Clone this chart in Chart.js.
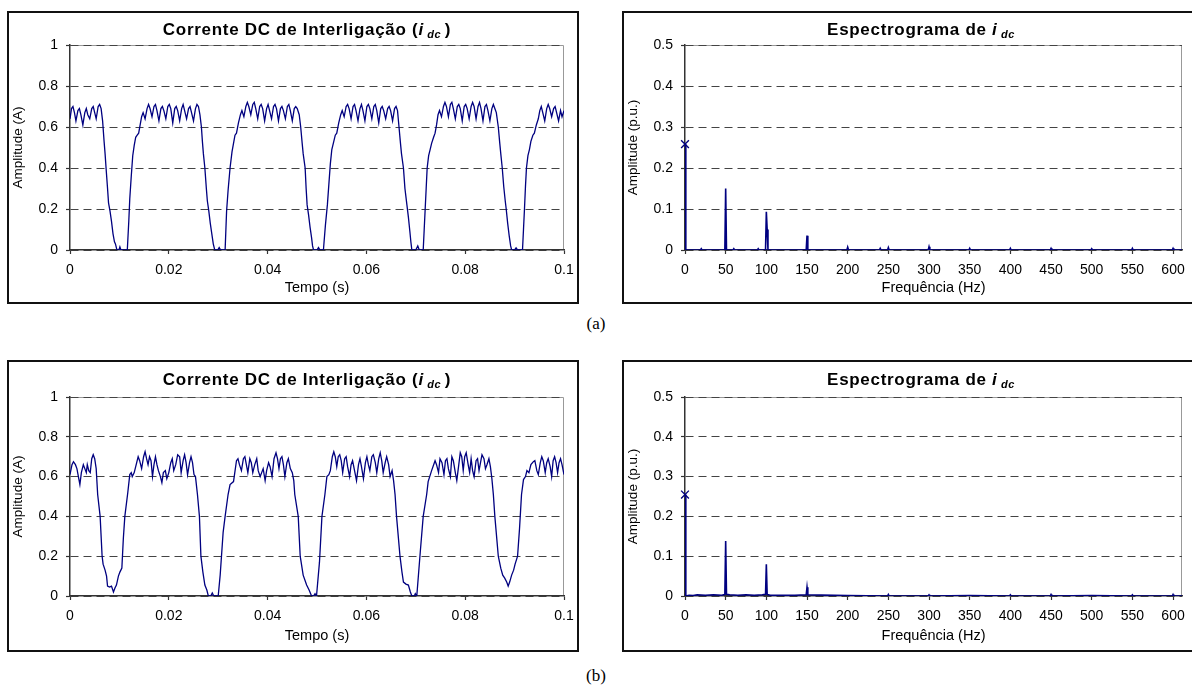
<!DOCTYPE html>
<html>
<head>
<meta charset="utf-8">
<script src="https://cdn.jsdelivr.net/npm/chart.js@4.4.1/dist/chart.umd.min.js"></script>
<style>
    body { margin: 0; background: #fff; width: 1192px; height: 695px; position: relative; overflow: hidden;
           font-family: "Liberation Sans", Arial, sans-serif; }
    canvas { position: absolute; }
    .frame { position: absolute; box-sizing: border-box; border: 2px solid #111; pointer-events: none; }
    .title { position: absolute; font-weight: bold; font-size: 17px; letter-spacing: 0.7px; white-space: nowrap;
             transform: translate(-50%, -50%); }
    .title sub { font-size: 11px; font-style: italic; vertical-align: -3px; letter-spacing: 0.5px; }
    .cap { position: absolute; font-family: "Liberation Serif", "Times New Roman", serif; font-size: 17px;
           transform: translate(-50%, -50%); }
</style>
</head>
<body>

<canvas id="wave-a" width="571" height="292" style="left:7px;top:11px"></canvas>
<canvas id="spec-a" width="570" height="292" style="left:622px;top:11px"></canvas>
<canvas id="wave-b" width="571" height="291" style="left:7px;top:360px"></canvas>
<canvas id="spec-b" width="570" height="291" style="left:622px;top:360px"></canvas>

<div class="frame" style="left:7px;top:11px;width:572px;height:293px"></div>
<div class="frame" style="left:622px;top:11px;width:574px;height:293px"></div>
<div class="frame" style="left:7px;top:360px;width:572px;height:292px"></div>
<div class="frame" style="left:622px;top:360px;width:574px;height:292px"></div>

<div class="title" style="left:307px;top:30px">Corrente DC de Interligação (<i>i</i><sub>&nbsp;dc&nbsp;</sub>)</div>
<div class="title" style="left:921px;top:30px">Espectrograma de <i>i</i><sub>&nbsp;dc</sub></div>
<div class="title" style="left:307px;top:380px">Corrente DC de Interligação (<i>i</i><sub>&nbsp;dc&nbsp;</sub>)</div>
<div class="title" style="left:921px;top:380px">Espectrograma de <i>i</i><sub>&nbsp;dc</sub></div>

<div class="cap" style="left:596px;top:324px">(a)</div>
<div class="cap" style="left:596px;top:676px">(b)</div>

<script>
    // ---- (a) corrente DC: tempo (s) / amplitude (A)
    // one line per segment: plateau, fall, notch, rise
    var timeA = [
        0.0000, 0.0003, 0.0006, 0.0009, 0.0012, 0.0016, 0.0019, 0.0022, 0.0026, 0.0030, 0.0033, 0.0036, 0.0040, 0.0044, 0.0047, 0.0050, 0.0053, 0.0057, 0.0060, 0.0063,
        0.0066, 0.0069, 0.0071, 0.0073, 0.0076, 0.0078, 0.0081, 0.0084, 0.0087, 0.0090, 0.0092, 0.0095, 0.0099, 0.0101, 0.0103, 0.0116,
        0.0119, 0.0121, 0.0124, 0.0127, 0.0130, 0.0133, 0.0136, 0.0139, 0.0142, 0.0145, 0.0148,
        0.0152, 0.0156, 0.0159, 0.0162, 0.0166, 0.0170, 0.0173, 0.0176, 0.0180, 0.0184, 0.0187, 0.0190, 0.0194, 0.0198, 0.0201, 0.0204,
        0.0208, 0.0212, 0.0215, 0.0218, 0.0222, 0.0226, 0.0229, 0.0232, 0.0236, 0.0240, 0.0243, 0.0246, 0.0250, 0.0254, 0.0257, 0.0260, 0.0263,
        0.0266, 0.0268, 0.0270, 0.0273, 0.0276, 0.0278, 0.0281, 0.0284, 0.0287, 0.0290, 0.0293, 0.0299, 0.0302, 0.0305, 0.0314,
        0.0317, 0.0320, 0.0324, 0.0328, 0.0331, 0.0334, 0.0337, 0.0341, 0.0345, 0.0348,
        0.0352, 0.0356, 0.0359, 0.0362, 0.0366, 0.0370, 0.0373, 0.0376, 0.0380, 0.0384, 0.0387, 0.0390, 0.0394, 0.0398, 0.0401, 0.0404,
        0.0408, 0.0412, 0.0415, 0.0418, 0.0422, 0.0426, 0.0429, 0.0432, 0.0436, 0.0440, 0.0443, 0.0446, 0.0450, 0.0454, 0.0457, 0.0460, 0.0464,
        0.0467, 0.0470, 0.0472, 0.0476, 0.0478, 0.0480, 0.0483, 0.0486, 0.0489, 0.0491, 0.0493, 0.0500, 0.0503, 0.0506, 0.0513,
        0.0517, 0.0521, 0.0524, 0.0527, 0.0530, 0.0534, 0.0537, 0.0540, 0.0544, 0.0548, 0.0551,
        0.0555, 0.0559, 0.0562, 0.0565, 0.0569, 0.0573, 0.0576, 0.0579, 0.0583, 0.0587, 0.0590, 0.0593, 0.0597, 0.0601, 0.0604, 0.0607,
        0.0611, 0.0615, 0.0618, 0.0621, 0.0625, 0.0629, 0.0632, 0.0635, 0.0639, 0.0643, 0.0646, 0.0649, 0.0653, 0.0657, 0.0660, 0.0663,
        0.0666, 0.0669, 0.0671, 0.0675, 0.0678, 0.0682, 0.0685, 0.0688, 0.0690, 0.0692, 0.0700, 0.0704, 0.0707, 0.0715,
        0.0717, 0.0719, 0.0721, 0.0723, 0.0726, 0.0729, 0.0732, 0.0736, 0.0739, 0.0742, 0.0745, 0.0748,
        0.0752, 0.0756, 0.0759, 0.0762, 0.0766, 0.0770, 0.0773, 0.0776, 0.0780, 0.0784, 0.0787, 0.0790, 0.0794, 0.0798, 0.0801, 0.0804,
        0.0808, 0.0812, 0.0815, 0.0818, 0.0822, 0.0826, 0.0829, 0.0832, 0.0836, 0.0840, 0.0843, 0.0846, 0.0850, 0.0854, 0.0857, 0.0860, 0.0863,
        0.0867, 0.0870, 0.0872, 0.0875, 0.0878, 0.0881, 0.0883, 0.0886, 0.0889, 0.0892, 0.0894, 0.0900, 0.0903, 0.0906, 0.0916,
        0.0918, 0.0920, 0.0922, 0.0924, 0.0927, 0.0930, 0.0933, 0.0937, 0.0940, 0.0944, 0.0948,
        0.0951, 0.0954, 0.0957, 0.0961, 0.0965, 0.0968, 0.0971, 0.0975, 0.0979, 0.0982, 0.0985, 0.0989, 0.0993, 0.0996, 0.1000
    ];
    var currentA = [
        0.64, 0.69, 0.70, 0.67, 0.63, 0.68, 0.69, 0.66, 0.61, 0.67, 0.69, 0.66, 0.64, 0.69, 0.70, 0.67, 0.64, 0.70, 0.71, 0.69,
        0.63, 0.53, 0.47, 0.40, 0.30, 0.23, 0.19, 0.14, 0.08, 0.04, 0.03, 0.00, 0.00, 0.015, 0.00, 0.00,
        0.14, 0.25, 0.36, 0.46, 0.51, 0.55, 0.56, 0.57, 0.61, 0.65, 0.67,
        0.64, 0.69, 0.71, 0.69, 0.65, 0.70, 0.71, 0.68, 0.63, 0.69, 0.70, 0.68, 0.64, 0.70, 0.71, 0.69,
        0.62, 0.69, 0.70, 0.68, 0.63, 0.69, 0.71, 0.68, 0.64, 0.69, 0.70, 0.67, 0.63, 0.69, 0.71, 0.70, 0.66,
        0.60, 0.53, 0.47, 0.40, 0.30, 0.24, 0.19, 0.13, 0.08, 0.03, 0.00, 0.00, 0.012, 0.00, 0.00,
        0.19, 0.29, 0.40, 0.48, 0.52, 0.56, 0.57, 0.62, 0.66, 0.68,
        0.65, 0.70, 0.72, 0.70, 0.66, 0.71, 0.72, 0.69, 0.64, 0.70, 0.71, 0.69, 0.63, 0.69, 0.71, 0.68,
        0.64, 0.70, 0.71, 0.69, 0.63, 0.69, 0.70, 0.68, 0.64, 0.70, 0.71, 0.68, 0.63, 0.69, 0.70, 0.69, 0.66,
        0.60, 0.52, 0.47, 0.40, 0.30, 0.22, 0.17, 0.11, 0.06, 0.02, 0.00, 0.00, 0.012, 0.00, 0.00,
        0.12, 0.22, 0.32, 0.42, 0.49, 0.53, 0.56, 0.57, 0.62, 0.66, 0.68,
        0.65, 0.70, 0.71, 0.69, 0.64, 0.70, 0.71, 0.68, 0.63, 0.69, 0.71, 0.68, 0.63, 0.70, 0.71, 0.69,
        0.64, 0.70, 0.71, 0.68, 0.62, 0.69, 0.70, 0.68, 0.64, 0.69, 0.70, 0.68, 0.63, 0.69, 0.70, 0.68,
        0.60, 0.52, 0.47, 0.40, 0.30, 0.22, 0.16, 0.09, 0.04, 0.00, 0.00, 0.02, 0.00, 0.00,
        0.10, 0.20, 0.30, 0.40, 0.46, 0.49, 0.52, 0.55, 0.57, 0.61, 0.66, 0.68,
        0.65, 0.70, 0.72, 0.70, 0.65, 0.71, 0.72, 0.69, 0.64, 0.70, 0.71, 0.69, 0.63, 0.70, 0.71, 0.69,
        0.64, 0.70, 0.72, 0.70, 0.64, 0.70, 0.72, 0.69, 0.63, 0.70, 0.71, 0.68, 0.63, 0.69, 0.71, 0.69, 0.67,
        0.60, 0.52, 0.47, 0.40, 0.31, 0.24, 0.20, 0.13, 0.07, 0.02, 0.00, 0.00, 0.01, 0.00, 0.00,
        0.10, 0.20, 0.31, 0.40, 0.46, 0.49, 0.53, 0.56, 0.57, 0.61, 0.64,
        0.68, 0.70, 0.67, 0.63, 0.69, 0.71, 0.69, 0.65, 0.69, 0.70, 0.67, 0.63, 0.68, 0.65, 0.68
    ];

    // ---- (b) corrente DC: tempo (s) / amplitude (A)
    var timeB = [
        0.0000, 0.0004, 0.0007, 0.0011, 0.0014, 0.0017, 0.0020, 0.0023, 0.0027, 0.0030, 0.0033, 0.0035, 0.0038, 0.0041, 0.0044, 0.0047, 0.0050, 0.0053,
        0.0056, 0.0061, 0.0065, 0.0067, 0.0071, 0.0074, 0.0076, 0.0080, 0.0084, 0.0088, 0.0091, 0.0094, 0.0098, 0.0101, 0.0105, 0.0108, 0.0111, 0.0117,
        0.0121, 0.0124, 0.0126, 0.0130, 0.0135, 0.0138, 0.0141, 0.0145, 0.0149, 0.0152, 0.0155, 0.0158, 0.0161, 0.0164, 0.0167, 0.0170,
        0.0173, 0.0176, 0.0179, 0.0183, 0.0186, 0.0189, 0.0193, 0.0196, 0.0200, 0.0204, 0.0207, 0.0210, 0.0214, 0.0218, 0.0222, 0.0225,
        0.0229, 0.0232, 0.0235, 0.0238, 0.0242, 0.0245, 0.0248, 0.0251, 0.0254,
        0.0258, 0.0262, 0.0265, 0.0269, 0.0273, 0.0277, 0.0280, 0.0285, 0.0288, 0.0291, 0.0300, 0.0304, 0.0310, 0.0314, 0.0320,
        0.0324, 0.0331, 0.0337, 0.0340, 0.0343, 0.0347, 0.0351, 0.0354, 0.0357, 0.0360, 0.0364, 0.0367, 0.0370, 0.0374, 0.0378,
        0.0381, 0.0385, 0.0388, 0.0391, 0.0395, 0.0398, 0.0402, 0.0405, 0.0409, 0.0413, 0.0417, 0.0420, 0.0423, 0.0426, 0.0429,
        0.0432, 0.0435, 0.0439, 0.0442, 0.0446, 0.0450, 0.0453,
        0.0455, 0.0462, 0.0466, 0.0472, 0.0479, 0.0484, 0.0489, 0.0493, 0.0496, 0.0499, 0.0505, 0.0510, 0.0516,
        0.0520, 0.0524, 0.0527, 0.0531, 0.0534, 0.0537, 0.0540, 0.0543, 0.0546, 0.0549, 0.0552, 0.0556, 0.0559, 0.0562, 0.0566,
        0.0569, 0.0572, 0.0576, 0.0580, 0.0584, 0.0587, 0.0590, 0.0594, 0.0598, 0.0601, 0.0604, 0.0607, 0.0611, 0.0614, 0.0618,
        0.0621, 0.0625, 0.0628, 0.0631, 0.0634, 0.0638, 0.0641, 0.0645, 0.0648, 0.0652, 0.0655,
        0.0658, 0.0661, 0.0668, 0.0672, 0.0675, 0.0680, 0.0685, 0.0689, 0.0692, 0.0697, 0.0699, 0.0702, 0.0709, 0.0715, 0.0722,
        0.0725, 0.0732, 0.0739, 0.0742, 0.0746, 0.0749, 0.0753, 0.0757, 0.0760, 0.0763, 0.0766, 0.0770, 0.0773, 0.0776, 0.0780,
        0.0783, 0.0787, 0.0790, 0.0793, 0.0796, 0.0799, 0.0802, 0.0806, 0.0809, 0.0812, 0.0815, 0.0818, 0.0822, 0.0825, 0.0828,
        0.0831, 0.0834, 0.0838, 0.0841, 0.0844, 0.0848, 0.0851, 0.0854,
        0.0857, 0.0860, 0.0867, 0.0872, 0.0876, 0.0880, 0.0884, 0.0887, 0.0890, 0.0894, 0.0898, 0.0901, 0.0906, 0.0910, 0.0914,
        0.0918, 0.0922, 0.0925, 0.0929, 0.0933, 0.0938, 0.0941, 0.0945, 0.0948, 0.0952, 0.0955, 0.0958, 0.0962, 0.0965, 0.0968,
        0.0972, 0.0975, 0.0978, 0.0981, 0.0984, 0.0987, 0.0990, 0.0993, 0.0996, 0.1000
    ];
    var currentB = [
        0.61, 0.66, 0.675, 0.66, 0.64, 0.60, 0.56, 0.62, 0.66, 0.64, 0.62, 0.66, 0.63, 0.62, 0.69, 0.71, 0.69, 0.64,
        0.51, 0.40, 0.20, 0.16, 0.13, 0.10, 0.05, 0.045, 0.05, 0.02, 0.04, 0.055, 0.10, 0.12, 0.14, 0.29, 0.40, 0.52,
        0.61, 0.62, 0.60, 0.62, 0.67, 0.70, 0.68, 0.64, 0.70, 0.725, 0.69, 0.66, 0.70, 0.68, 0.60, 0.66,
        0.70, 0.66, 0.63, 0.60, 0.57, 0.62, 0.63, 0.59, 0.62, 0.67, 0.69, 0.63, 0.66, 0.71, 0.70, 0.62,
        0.68, 0.71, 0.67, 0.61, 0.67, 0.70, 0.67, 0.61, 0.60,
        0.51, 0.40, 0.20, 0.12, 0.055, 0.03, 0.00, 0.00, 0.015, 0.00, 0.00, 0.105, 0.32, 0.40, 0.51,
        0.56, 0.575, 0.68, 0.69, 0.66, 0.63, 0.69, 0.70, 0.66, 0.62, 0.69, 0.67, 0.62, 0.66, 0.69,
        0.63, 0.60, 0.62, 0.64, 0.58, 0.63, 0.67, 0.65, 0.60, 0.69, 0.72, 0.69, 0.64, 0.69, 0.70,
        0.66, 0.60, 0.67, 0.69, 0.64, 0.62, 0.58,
        0.51, 0.40, 0.20, 0.105, 0.055, 0.03, 0.00, 0.00, 0.012, 0.00, 0.17, 0.40, 0.51,
        0.60, 0.61, 0.63, 0.70, 0.725, 0.70, 0.65, 0.70, 0.71, 0.68, 0.62, 0.69, 0.70, 0.65, 0.60,
        0.66, 0.68, 0.63, 0.58, 0.66, 0.69, 0.65, 0.59, 0.67, 0.70, 0.66, 0.63, 0.70, 0.71, 0.67,
        0.62, 0.69, 0.72, 0.68, 0.62, 0.67, 0.70, 0.66, 0.60, 0.63, 0.58,
        0.51, 0.40, 0.20, 0.12, 0.07, 0.06, 0.055, 0.02, 0.00, 0.00, 0.012, 0.00, 0.22, 0.40, 0.51,
        0.575, 0.63, 0.68, 0.66, 0.62, 0.69, 0.67, 0.61, 0.68, 0.69, 0.64, 0.60, 0.70, 0.68, 0.62,
        0.58, 0.66, 0.72, 0.70, 0.63, 0.70, 0.72, 0.66, 0.62, 0.69, 0.63, 0.60, 0.68, 0.69, 0.63,
        0.67, 0.71, 0.69, 0.64, 0.66, 0.69, 0.65, 0.59,
        0.51, 0.40, 0.20, 0.14, 0.105, 0.09, 0.07, 0.05, 0.07, 0.105, 0.13, 0.16, 0.20, 0.34, 0.51,
        0.585, 0.60, 0.63, 0.62, 0.66, 0.675, 0.68, 0.63, 0.61, 0.67, 0.70, 0.68, 0.62, 0.67, 0.69,
        0.65, 0.60, 0.68, 0.70, 0.67, 0.62, 0.67, 0.69, 0.66, 0.61
    ];

    // ---- espectrograma: frequência (Hz) / amplitude (p.u.)
    var freqA = [0, 1, 19, 20, 21, 49, 50, 51, 59, 60, 61, 89, 90, 91, 99, 100, 101, 102, 149, 150, 151,
                 199, 200, 201, 239, 240, 241, 249, 250, 251, 299, 300, 301, 349, 350, 351, 399, 400, 401,
                 449, 450, 451, 499, 500, 501, 549, 550, 551, 599, 600, 601, 611];
    var ampA = [0.258, 0, 0, 0.003, 0, 0, 0.15, 0, 0, 0.003, 0, 0, 0.003, 0, 0, 0.093, 0.05, 0, 0, 0.035, 0,
                0, 0.007, 0, 0, 0.004, 0, 0, 0.006, 0, 0, 0.008, 0, 0, 0.004, 0, 0, 0.004, 0,
                0, 0.004, 0, 0, 0.003, 0, 0, 0.004, 0, 0, 0.004, 0, 0];
    var freqB = [0, 1, 5, 10, 15, 25, 35, 45, 49, 50, 51, 55, 65, 75, 85, 95, 99, 100, 101, 105, 120, 135, 149, 150, 151,
                 200, 249, 250, 251, 299, 300, 301, 350, 399, 400, 401, 449, 450, 451, 500, 549, 550, 551, 599, 600, 601, 611];
    var ampB = [0.255, 0, 0.002, 0.001, 0.003, 0.002, 0.003, 0.002, 0.004, 0.138, 0.004, 0.003, 0.002, 0.003, 0.002, 0.003,
                0.004, 0.08, 0.004, 0.002, 0.002, 0.002, 0.003, 0.022, 0.003,
                0.001, 0, 0.004, 0, 0, 0.003, 0, 0.001, 0, 0.003, 0, 0, 0.004, 0, 0.001, 0, 0.003, 0, 0, 0.004, 0, 0];

    var timeTicks = [0, 0.02, 0.04, 0.06, 0.08, 0.1];
    var freqTicks = [0, 50, 100, 150, 200, 250, 300, 350, 400, 450, 500, 550, 600];
    var currentTicks = [0, 0.2, 0.4, 0.6, 0.8, 1];
    var puTicks = [0, 0.1, 0.2, 0.3, 0.4, 0.5];

    Chart.defaults.font.family = '"Liberation Sans", Arial, sans-serif';
    Chart.defaults.color = '#000';

    var NAVY = '#000080';
    var AXIS = '#333';
    var GRID = '#444';

    // Light grey frame on the top and right of the plot area (drawn under the grid)
    var plotFrame = {
        id: 'plotFrame',
        beforeDraw: function (chart) {
            var a = chart.chartArea;
            var ctx = chart.ctx;
            ctx.save();
            ctx.strokeStyle = '#999';
            ctx.lineWidth = 1;
            ctx.beginPath();
            ctx.moveTo(a.left, Math.round(a.top) + 0.5);
            ctx.lineTo(Math.round(a.right) - 0.5, Math.round(a.top) + 0.5);
            ctx.lineTo(Math.round(a.right) - 0.5, a.bottom);
            ctx.stroke();
            ctx.restore();
        }
    };

    function toPoints(xs, ys) {
        return xs.map(function (x, i) { return {x: x, y: ys[i]}; });
    }

    /**
     * Builds one panel. o.left/right/top/bottom give the plot area inside the canvas.
     */
    function makeChart(id, datasets, o) {
        var canvas = document.getElementById(id);
        var W = canvas.width, H = canvas.height;
        return new Chart(canvas, {
            type: 'line',
            data: {datasets: datasets},
            options: {
                responsive: false,
                animation: false,
                events: [],
                layout: {padding: {left: 0, top: o.top, right: W - o.right, bottom: 0}},
                plugins: {legend: {display: false}, tooltip: {enabled: false}},
                scales: {
                    x: {
                        type: 'linear',
                        min: o.xMin, max: o.xMax,
                        afterFit: function (s) { s.height = H - o.bottom; s.paddingLeft = 0; s.paddingRight = 0; },
                        afterBuildTicks: function (s) {
                            s.ticks = o.xTicks.map(function (v) { return {value: v}; });
                        },
                        ticks: {
                            font: {size: 14}, padding: 8, maxRotation: 0, autoSkip: false,
                            callback: function (v) { return String(+v.toFixed(4)); }
                        },
                        grid: {drawOnChartArea: false, drawTicks: true, tickLength: 4, tickColor: AXIS, tickWidth: 1.2},
                        border: {display: true, color: AXIS, width: 1.5},
                        title: {display: true, text: o.xTitle, font: {size: 14.5}, padding: {top: 0, bottom: 6}}
                    },
                    y: {
                        type: 'linear',
                        min: 0, max: o.yMax,
                        afterFit: function (s) { s.width = o.left; s.paddingTop = 0; s.paddingBottom = 0; },
                        afterBuildTicks: function (s) {
                            s.ticks = o.yTicks.map(function (v) { return {value: v}; });
                        },
                        ticks: {
                            font: {size: 14}, padding: 8,
                            callback: function (v) { return String(+v.toFixed(2)); }
                        },
                        grid: {color: GRID, lineWidth: 1, drawTicks: true, tickLength: 4, tickColor: AXIS, tickWidth: 1.2},
                        border: {display: true, color: AXIS, width: 1.5, dash: [8, 5]},
                        title: {display: true, text: o.yTitle, font: {size: 13.5}, padding: {top: 3, bottom: 0}}
                    }
                }
            },
            plugins: [plotFrame]
        });
    }

    function waveDataset(xs, ys) {
        return {
            data: toPoints(xs, ys), borderColor: NAVY, borderWidth: 1.3,
            pointRadius: 0, tension: 0, fill: false
        };
    }

    function specDatasets(xs, ys) {
        return [{
            data: toPoints(xs, ys), borderColor: NAVY, borderWidth: 1.6,
            pointRadius: 0, tension: 0, fill: false
        }, {
            // DC component marker
            data: [{x: xs[0], y: ys[0]}], showLine: false, clip: false,
            borderColor: NAVY, backgroundColor: NAVY,
            pointStyle: 'crossRot', pointRadius: 5.5, pointBorderWidth: 1.4
        }];
    }

    makeChart('wave-a', [waveDataset(timeA, currentA)], {
        left: 63, right: 557, top: 34, bottom: 239,
        xMin: 0, xMax: 0.1, xTicks: timeTicks, yMax: 1, yTicks: currentTicks,
        xTitle: 'Tempo (s)', yTitle: 'Amplitude (A)'
    });
    makeChart('spec-a', specDatasets(freqA, ampA), {
        left: 63, right: 560, top: 34, bottom: 239,
        xMin: 0, xMax: 611, xTicks: freqTicks, yMax: 0.5, yTicks: puTicks,
        xTitle: 'Frequência (Hz)', yTitle: 'Amplitude (p.u.)'
    });
    makeChart('wave-b', [waveDataset(timeB, currentB)], {
        left: 63, right: 557, top: 37, bottom: 236,
        xMin: 0, xMax: 0.1, xTicks: timeTicks, yMax: 1, yTicks: currentTicks,
        xTitle: 'Tempo (s)', yTitle: 'Amplitude (A)'
    });
    makeChart('spec-b', specDatasets(freqB, ampB), {
        left: 63, right: 560, top: 37, bottom: 236,
        xMin: 0, xMax: 611, xTicks: freqTicks, yMax: 0.5, yTicks: puTicks,
        xTitle: 'Frequência (Hz)', yTitle: 'Amplitude (p.u.)'
    });
</script>
</body>
</html>
